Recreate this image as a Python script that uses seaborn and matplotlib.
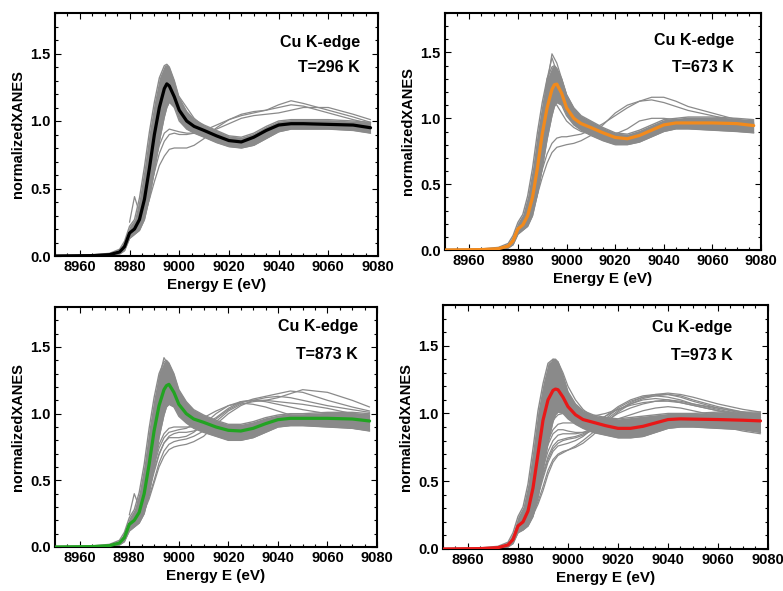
import numpy as np
import pandas as pd
import matplotlib
matplotlib.use("Agg")
import matplotlib.pyplot as plt
from matplotlib.ticker import MultipleLocator
import seaborn as sns

# ---------------- data ----------------
energy = [8950, 8965, 8972, 8976, 8978, 8980, 8982, 8984, 8986, 8988, 8990, 8992,
          8994, 8995, 8996, 8998, 9000, 9003, 9006, 9010, 9015, 9020, 9025, 9030,
          9035, 9040, 9045, 9050, 9060, 9070, 9077]
energy_out = [8980, 8982, 8984, 8986, 8988, 8990, 8992, 8994, 8996, 8998, 9000, 9003,
              9006, 9010, 9015, 9020, 9025, 9030, 9035, 9040, 9045, 9050, 9060, 9070, 9077]

temps = ["T=296 K", "T=673 K", "T=873 K", "T=973 K"]
mean_colors = ["#000000", "#f28a1c", "#22a322", "#e81818"]

mean_296 = [0.0, 0.003, 0.01, 0.03, 0.07, 0.17, 0.20, 0.27, 0.42, 0.65, 0.90, 1.10, 1.24, 1.275,
            1.26, 1.18, 1.08, 1.00, 0.96, 0.93, 0.89, 0.855, 0.845, 0.88, 0.93, 0.97, 0.98,
            0.98, 0.975, 0.97, 0.95]
mean_673 = [0.0, 0.003, 0.01, 0.03, 0.07, 0.16, 0.19, 0.26, 0.40, 0.62, 0.88, 1.08, 1.22, 1.255,
            1.26, 1.19, 1.08, 1.00, 0.96, 0.93, 0.89, 0.855, 0.845, 0.87, 0.91, 0.95, 0.965,
            0.965, 0.965, 0.96, 0.945]
mean_873 = [0.0, 0.003, 0.01, 0.03, 0.07, 0.17, 0.20, 0.26, 0.40, 0.62, 0.87, 1.06, 1.18, 1.21,
            1.22, 1.16, 1.07, 1.00, 0.96, 0.935, 0.90, 0.875, 0.87, 0.89, 0.925, 0.955, 0.965,
            0.965, 0.965, 0.96, 0.945]
mean_973 = [0.0, 0.003, 0.01, 0.03, 0.07, 0.17, 0.20, 0.28, 0.45, 0.70, 0.95, 1.10, 1.17, 1.18,
            1.175, 1.12, 1.05, 0.99, 0.955, 0.935, 0.91, 0.89, 0.89, 0.905, 0.93, 0.955, 0.96,
            0.958, 0.955, 0.95, 0.945]

# dense bundle of gray spectra: lower / upper envelope
band_lo_296 = [0, 0, 0.004, 0.015, 0.04, 0.13, 0.16, 0.19, 0.27, 0.43, 0.63, 0.85, 1.03, 1.10,
               1.14, 1.10, 1.00, 0.94, 0.91, 0.88, 0.84, 0.81, 0.80, 0.82, 0.87, 0.92, 0.94,
               0.94, 0.94, 0.93, 0.91]
band_hi_296 = [0.005, 0.008, 0.02, 0.05, 0.11, 0.22, 0.27, 0.43, 0.66, 0.92, 1.14, 1.32, 1.41,
               1.42, 1.40, 1.30, 1.17, 1.07, 1.01, 0.97, 0.93, 0.89, 0.88, 0.91, 0.96, 1.00,
               1.01, 1.01, 1.01, 1.00, 0.99]
band_lo_673 = [0, 0, 0.004, 0.015, 0.04, 0.12, 0.15, 0.18, 0.26, 0.42, 0.62, 0.84, 1.02, 1.09,
               1.12, 1.10, 1.02, 0.95, 0.91, 0.87, 0.83, 0.80, 0.80, 0.82, 0.86, 0.90, 0.92,
               0.92, 0.91, 0.90, 0.89]
band_hi_673 = [0.005, 0.008, 0.02, 0.05, 0.11, 0.21, 0.27, 0.41, 0.62, 0.89, 1.12, 1.30, 1.39,
               1.40, 1.38, 1.30, 1.18, 1.08, 1.02, 0.98, 0.93, 0.89, 0.88, 0.91, 0.95, 0.99,
               1.00, 1.01, 1.01, 1.00, 0.99]
band_lo_873 = [0, 0, 0.004, 0.015, 0.04, 0.12, 0.15, 0.18, 0.25, 0.40, 0.60, 0.82, 0.99, 1.05,
               1.07, 1.05, 0.98, 0.93, 0.89, 0.86, 0.83, 0.80, 0.80, 0.82, 0.86, 0.90, 0.91,
               0.91, 0.90, 0.89, 0.87]
band_hi_873 = [0.005, 0.008, 0.02, 0.05, 0.11, 0.22, 0.28, 0.41, 0.62, 0.89, 1.12, 1.30, 1.39,
               1.40, 1.38, 1.30, 1.18, 1.09, 1.03, 0.99, 0.95, 0.92, 0.92, 0.94, 0.97, 0.99,
               1.00, 1.00, 1.01, 1.01, 1.00]
band_lo_973 = [0, 0, 0.004, 0.015, 0.04, 0.12, 0.14, 0.17, 0.24, 0.38, 0.58, 0.78, 0.94, 0.99,
               1.01, 1.00, 0.96, 0.92, 0.89, 0.86, 0.84, 0.82, 0.82, 0.83, 0.86, 0.89, 0.90,
               0.90, 0.89, 0.88, 0.86]
band_hi_973 = [0.005, 0.008, 0.02, 0.05, 0.12, 0.24, 0.31, 0.48, 0.74, 1.02, 1.22, 1.37, 1.40,
               1.40, 1.38, 1.28, 1.16, 1.07, 1.02, 0.99, 0.97, 0.96, 0.97, 0.98, 0.99, 1.00,
               1.00, 1.00, 1.01, 1.01, 1.01]

# individual outlying gray spectra (on energy_out)
outliers_296 = [
    [0.16, 0.18, 0.22, 0.30, 0.42, 0.55, 0.67, 0.74, 0.79, 0.80, 0.80, 0.80, 0.82, 0.87, 0.95, 1.01, 1.05, 1.07, 1.08, 1.10, 1.12, 1.11, 1.06, 1.01, 0.98],
    [0.16, 0.19, 0.24, 0.33, 0.48, 0.62, 0.76, 0.85, 0.90, 0.91, 0.90, 0.90, 0.91, 0.93, 0.97, 1.01, 1.04, 1.06, 1.08, 1.12, 1.15, 1.13, 1.08, 1.03, 0.99],
    [0.17, 0.20, 0.27, 0.38, 0.52, 0.68, 0.82, 0.91, 0.94, 0.93, 0.92, 0.91, 0.91, 0.92, 0.94, 0.98, 1.02, 1.04, 1.05, 1.06, 1.08, 1.10, 1.10, 1.05, 1.01],
    [0.17, 0.20, 0.28, 0.45, 0.68, 0.90, 1.06, 1.15, 1.20, 1.21, 1.18, 1.10, 1.02, 0.96, 0.91, 0.87, 0.85, 0.87, 0.91, 0.96, 0.98, 0.98, 0.98, 0.97, 0.95],
    [0.25, 0.44, 0.32, 0.42, 0.62, 0.85, 1.08, 1.25, 1.30, 1.22, 1.12, 1.03, 0.98, 0.94, 0.89, 0.85, 0.83, 0.86, 0.91, 0.96, 0.98, 0.98, 0.98, 0.97, 0.95],
]
outliers_673 = [
    [0.16, 0.18, 0.22, 0.30, 0.42, 0.55, 0.66, 0.74, 0.78, 0.79, 0.80, 0.81, 0.83, 0.87, 0.95, 1.04, 1.10, 1.13, 1.14, 1.12, 1.09, 1.06, 1.02, 0.98, 0.96],
    [0.16, 0.19, 0.24, 0.34, 0.47, 0.61, 0.73, 0.81, 0.85, 0.86, 0.86, 0.87, 0.88, 0.91, 0.96, 1.02, 1.08, 1.13, 1.16, 1.16, 1.13, 1.09, 1.04, 0.99, 0.97],
    [0.17, 0.21, 0.30, 0.48, 0.72, 0.98, 1.25, 1.49, 1.42, 1.30, 1.18, 1.07, 1.00, 0.95, 0.90, 0.86, 0.85, 0.87, 0.91, 0.95, 0.97, 0.97, 0.97, 0.96, 0.95],
    [0.17, 0.20, 0.27, 0.40, 0.58, 0.80, 1.00, 1.12, 1.10, 1.04, 0.98, 0.93, 0.90, 0.88, 0.87, 0.88, 0.92, 0.98, 1.00, 1.00, 0.99, 0.99, 0.98, 0.97, 0.96],
    [0.17, 0.21, 0.30, 0.48, 0.75, 1.02, 1.30, 1.46, 1.35, 1.22, 1.12, 1.04, 0.98, 0.93, 0.88, 0.84, 0.83, 0.85, 0.89, 0.94, 0.96, 0.96, 0.96, 0.95, 0.94],
]
outliers_873 = [
    [0.16, 0.18, 0.21, 0.27, 0.36, 0.48, 0.60, 0.68, 0.73, 0.75, 0.76, 0.77, 0.79, 0.83, 0.92, 1.00, 1.06, 1.10, 1.12, 1.13, 1.12, 1.10, 1.06, 1.03, 1.01],
    [0.16, 0.19, 0.23, 0.30, 0.42, 0.56, 0.69, 0.78, 0.83, 0.85, 0.86, 0.86, 0.87, 0.90, 0.96, 1.03, 1.08, 1.11, 1.13, 1.15, 1.17, 1.16, 1.10, 1.05, 1.02],
    [0.17, 0.20, 0.26, 0.36, 0.50, 0.64, 0.77, 0.85, 0.89, 0.90, 0.90, 0.90, 0.90, 0.92, 0.97, 1.04, 1.09, 1.10, 1.10, 1.09, 1.08, 1.07, 1.04, 1.00, 0.98],
    [0.16, 0.18, 0.22, 0.28, 0.38, 0.50, 0.63, 0.72, 0.77, 0.79, 0.80, 0.81, 0.83, 0.87, 0.94, 1.02, 1.07, 1.09, 1.10, 1.12, 1.15, 1.18, 1.16, 1.10, 1.05],
    [0.17, 0.20, 0.25, 0.34, 0.47, 0.61, 0.74, 0.82, 0.86, 0.87, 0.88, 0.89, 0.92, 0.97, 1.02, 1.06, 1.08, 1.07, 1.05, 1.02, 0.99, 0.96, 0.92, 0.89, 0.88],
    [0.17, 0.21, 0.30, 0.48, 0.74, 1.00, 1.26, 1.42, 1.36, 1.26, 1.15, 1.06, 1.00, 0.95, 0.90, 0.86, 0.85, 0.87, 0.91, 0.95, 0.96, 0.96, 0.96, 0.95, 0.94],
    [0.24, 0.40, 0.30, 0.40, 0.58, 0.80, 1.02, 1.18, 1.25, 1.20, 1.10, 1.01, 0.96, 0.93, 0.90, 0.87, 0.86, 0.88, 0.92, 0.95, 0.96, 0.96, 0.95, 0.93, 0.91],
    [0.16, 0.19, 0.24, 0.32, 0.45, 0.58, 0.70, 0.78, 0.82, 0.82, 0.82, 0.83, 0.86, 0.92, 1.00, 1.06, 1.09, 1.10, 1.09, 1.07, 1.05, 1.03, 1.00, 0.96, 0.93],
]
outliers_973 = [
    [0.15, 0.17, 0.20, 0.26, 0.35, 0.46, 0.58, 0.66, 0.70, 0.72, 0.73, 0.75, 0.78, 0.84, 0.93, 1.01, 1.07, 1.11, 1.13, 1.14, 1.13, 1.10, 1.05, 1.01, 0.99],
    [0.16, 0.18, 0.22, 0.30, 0.41, 0.54, 0.66, 0.74, 0.78, 0.80, 0.81, 0.82, 0.84, 0.88, 0.96, 1.04, 1.09, 1.12, 1.13, 1.12, 1.10, 1.07, 1.03, 0.99, 0.97],
    [0.16, 0.19, 0.24, 0.33, 0.46, 0.60, 0.72, 0.80, 0.84, 0.85, 0.85, 0.85, 0.86, 0.89, 0.95, 1.02, 1.08, 1.12, 1.14, 1.15, 1.14, 1.12, 1.07, 1.03, 1.01],
    [0.17, 0.20, 0.27, 0.38, 0.53, 0.68, 0.80, 0.88, 0.92, 0.93, 0.93, 0.93, 0.93, 0.94, 0.98, 1.03, 1.07, 1.10, 1.11, 1.10, 1.08, 1.06, 1.02, 0.98, 0.96],
    [0.15, 0.17, 0.20, 0.25, 0.33, 0.43, 0.55, 0.64, 0.69, 0.71, 0.73, 0.76, 0.80, 0.86, 0.94, 1.00, 1.04, 1.07, 1.09, 1.10, 1.09, 1.07, 1.04, 1.00, 0.97],
    [0.17, 0.21, 0.29, 0.42, 0.58, 0.74, 0.86, 0.95, 0.99, 1.00, 1.00, 0.99, 0.98, 0.98, 1.00, 1.03, 1.06, 1.08, 1.09, 1.09, 1.08, 1.06, 1.02, 0.99, 0.97],
    [0.16, 0.18, 0.23, 0.31, 0.43, 0.56, 0.68, 0.76, 0.80, 0.81, 0.82, 0.83, 0.85, 0.88, 0.92, 0.96, 0.99, 1.02, 1.04, 1.05, 1.04, 1.02, 0.98, 0.94, 0.92],
    [0.17, 0.21, 0.30, 0.48, 0.75, 1.02, 1.28, 1.40, 1.38, 1.30, 1.20, 1.10, 1.03, 0.97, 0.92, 0.89, 0.88, 0.90, 0.93, 0.96, 0.97, 0.97, 0.96, 0.95, 0.94],
    [0.16, 0.19, 0.25, 0.36, 0.50, 0.65, 0.77, 0.85, 0.88, 0.88, 0.87, 0.86, 0.86, 0.87, 0.89, 0.91, 0.93, 0.95, 0.97, 0.98, 0.97, 0.95, 0.91, 0.87, 0.85],
    [0.16, 0.18, 0.22, 0.29, 0.39, 0.52, 0.64, 0.72, 0.76, 0.77, 0.78, 0.80, 0.83, 0.89, 0.98, 1.05, 1.10, 1.13, 1.14, 1.14, 1.12, 1.09, 1.04, 1.01, 0.99],
]

x_ticks = [8960, 8980, 9000, 9020, 9040, 9060, 9080]
y_ticks = [0.0, 0.5, 1.0, 1.5]

# ---------------- drawing ----------------
sns.set_theme(style="white")
plt.rcParams["font.family"] = ["Liberation Sans", "DejaVu Sans"]
plt.rcParams["font.weight"] = "bold"
plt.rcParams["text.color"] = "black"
plt.rcParams["axes.labelcolor"] = "black"
plt.rcParams["xtick.color"] = "black"
plt.rcParams["ytick.color"] = "black"

W, H = 783, 591
fig = plt.figure(figsize=(W / 100, H / 100), dpi=100)

# axes frames in pixel coords: left, right, top, bottom
frames = [(55, 378, 13, 256), (445, 761, 13, 250), (55, 377, 307, 547), (443, 768, 305, 549)]
means = [mean_296, mean_673, mean_873, mean_973]
los = [band_lo_296, band_lo_673, band_lo_873, band_lo_973]
his = [band_hi_296, band_hi_673, band_hi_873, band_hi_973]
outs = [outliers_296, outliers_673, outliers_873, outliers_973]
text_pos = [(0.944, 0.88, 0.774), (0.915, 0.886, 0.768), (0.94, 0.918, 0.804), (0.891, 0.906, 0.795)]
gray = "#8a8a8a"

for i in range(4):
    l, r, t, b = frames[i]
    ax = fig.add_axes([l / W, 1 - b / H, (r - l) / W, (b - t) / H])
    ax.fill_between(energy, los[i], his[i], color=gray, lw=0, zorder=1)
    for lo_hi in (los[i], his[i]):
        sns.lineplot(x=energy, y=lo_hi, ax=ax, color=gray, lw=1.0, estimator=None,
                     sort=False, zorder=1)
    for curve in outs[i]:
        sns.lineplot(x=energy_out, y=curve, ax=ax, color=gray, lw=0.9, estimator=None,
                     sort=False, zorder=2)
    sns.lineplot(x=energy, y=means[i], ax=ax, color=mean_colors[i], lw=2.3,
                 estimator=None, sort=False, zorder=3)

    ax.set_xlim(8950, 9080)
    ax.set_ylim(0, 1.8)
    ax.set_xticks(x_ticks)
    ax.set_yticks(y_ticks)
    ax.set_xticklabels([str(v) for v in x_ticks])
    ax.set_yticklabels([f"{v:.1f}" for v in y_ticks])
    ax.xaxis.set_minor_locator(MultipleLocator(5))
    ax.yaxis.set_minor_locator(MultipleLocator(0.1))
    ax.tick_params(which="both", direction="in", top=True, right=True,
                   bottom=True, left=True, color="black", width=0.8)
    ax.tick_params(which="major", length=4, labelsize=10.5, pad=3, labelcolor="black")
    ax.tick_params(which="minor", length=2)
    for lab in ax.get_xticklabels() + ax.get_yticklabels():
        lab.set_fontweight("bold")
    for sp in ax.spines.values():
        sp.set_color("black")
        sp.set_linewidth(1.5)
    ax.set_xlabel("Energy E (eV)", fontsize=11, fontweight="bold", labelpad=3, color="black")
    ax.set_ylabel("normalizedXANES", fontsize=10.5, fontweight="bold", labelpad=4, color="black")
    tx, ty1, ty2 = text_pos[i]
    ax.text(tx, ty1, "Cu K-edge", transform=ax.transAxes, ha="right", va="center",
            fontsize=11.5, fontweight="bold", color="black")
    ax.text(tx, ty2, temps[i], transform=ax.transAxes, ha="right", va="center",
            fontsize=11.5, fontweight="bold", color="black")

fig.savefig("out.png", dpi=100)
